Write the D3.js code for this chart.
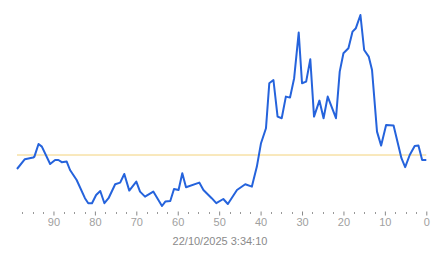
<!DOCTYPE html>
<html lang="en">
<head>
    <meta charset="UTF-8">
    <title>Chart</title>
    <style>
        body { margin: 0; background: #fff; }
        svg { display: block; }
    </style>
</head>
<body>
<svg></svg>
<script src="https://d3js.org/d3.v7.min.js"></script>
<script>
    // seconds ago and level at each vertex
    var ago = [98.8, 96.9, 94.9, 94.6, 93.6, 92.8, 90.8, 89.6, 88.8, 88.0, 86.8, 86.0, 84.4, 82.4, 81.6,
        80.7, 79.7, 78.7, 77.7, 76.7, 75.1, 73.9, 72.9, 71.7, 70.0, 69.1, 67.9, 65.9, 63.8, 63.0,
        61.8, 60.9, 59.8, 58.9, 58.0, 54.8, 53.8, 51.8, 50.7, 49.0, 47.9, 45.7, 43.7, 42.1, 40.9,
        39.9, 38.7, 37.9, 36.9, 35.9, 34.9, 33.9, 32.9, 31.9, 30.8, 30.0, 29.0, 28.0, 27.1, 25.8,
        24.8, 23.8, 21.8, 20.9, 20.0, 18.8, 17.8, 17.0, 15.9, 15.0, 13.9, 13.1, 11.9, 10.9, 9.7,
        7.9, 6.0, 5.1, 4.0, 2.8, 1.9, 1.0, 0];
    var level = [20.5, 25.4, 26.2, 26.7, 33, 31.7, 23, 25, 25, 23.9, 24.2, 20, 15, 5.9, 3.4,
        3.4, 7.5, 9.5, 3.4, 5.9, 12.9, 13.7, 18, 9.7, 14.2, 9.2, 6.7, 9.2, 2, 4.2,
        4.5, 10.5, 10, 18.4, 11.4, 13.7, 10, 5.9, 3.4, 5.5, 3, 10, 12.9, 11.7, 21.7,
        33.4, 40.9, 63.4, 65, 46.7, 45.9, 56.7, 56.2, 65.9, 88.7, 63.4, 64.2, 75.4, 46.7, 54.7,
        45.9, 56.7, 45.9, 69.2, 78.4, 80.9, 89.2, 90.9, 97.5, 80, 76.7, 70, 39.2, 32.2, 42.5,
        42.2, 25.9, 21.4, 27.5, 32, 32.2, 25, 25];
    var threshold = 27.5;
    var majorTicks = [90, 80, 70, 60, 50, 40, 30, 20, 10, 0];
    var minorTicks = [97.5, 95, 92.5, 87.5, 85, 82.5, 77.5, 75, 72.5, 67.5, 65, 62.5, 57.5, 55, 52.5,
        47.5, 45, 42.5, 37.5, 35, 32.5, 27.5, 25, 22.5, 17.5, 15, 12.5, 7.5, 5, 2.5];
    var stamp = "22/10/2025 3:34:10";

    var width = 443;
    var height = 258;

    var x = d3.scaleLinear().domain([98.8, 0]).range([17, 426.3]);
    var y = d3.scaleLinear().domain([0, 100]).range([210, 10]);

    var svg = d3.select("svg")
        .attr("width", width)
        .attr("height", height);

    svg.append("line")
        .attr("x1", x(98.8))
        .attr("x2", x(0))
        .attr("y1", y(threshold))
        .attr("y2", y(threshold))
        .attr("stroke", "#f3d27a")
        .attr("stroke-width", 1);

    var line = d3.line()
        .x(function (d, i) { return x(ago[i]); })
        .y(function (d) { return y(d); });

    svg.append("path")
        .datum(level)
        .attr("d", line)
        .attr("fill", "none")
        .attr("stroke", "#2563dc")
        .attr("stroke-width", 2)
        .attr("stroke-linejoin", "round");

    var axis = d3.axisBottom(x)
        .tickValues(majorTicks)
        .tickSize(4)
        .tickPadding(3);

    var gAxis = svg.append("g")
        .attr("transform", "translate(0,211.5)")
        .call(axis);
    gAxis.select(".domain").remove();
    gAxis.selectAll("line").attr("stroke", "#888");
    gAxis.selectAll("text")
        .attr("fill", "#a0a0a0")
        .style("font-family", "Liberation Sans, Arial, sans-serif")
        .style("font-size", "11px");

    svg.append("g")
        .selectAll("rect")
        .data(minorTicks)
        .enter().append("rect")
        .attr("x", function (d) { return Math.round(x(d)); })
        .attr("y", 212)
        .attr("width", 1)
        .attr("height", 2)
        .attr("fill", "#999");

    svg.append("text")
        .attr("x", 220)
        .attr("y", 245)
        .attr("text-anchor", "middle")
        .attr("fill", "#8a8a8a")
        .style("font-family", "Liberation Sans, Arial, sans-serif")
        .style("font-size", "11px")
        .text(stamp);
</script>
</body>
</html>
